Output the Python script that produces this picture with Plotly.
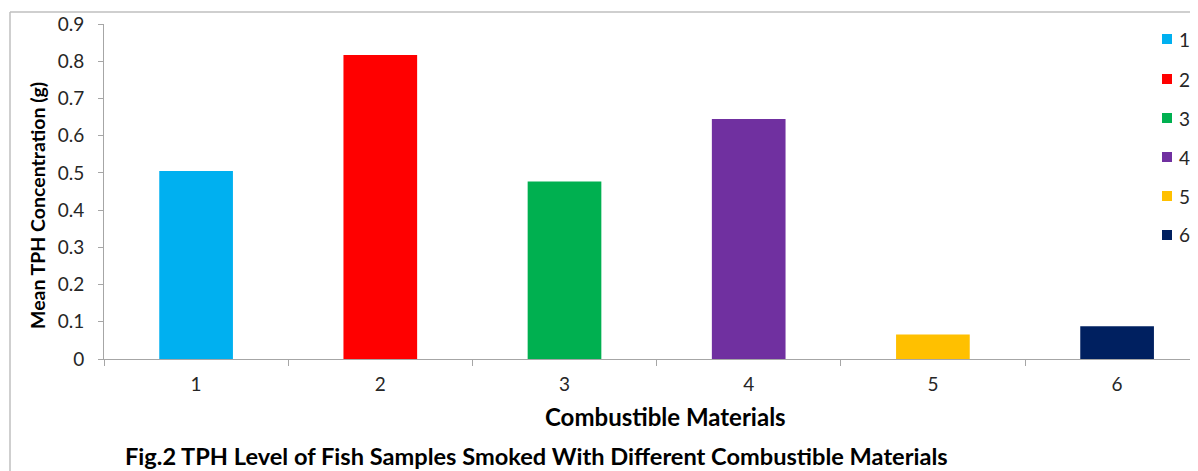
import plotly.graph_objects as go

categories = ["1", "2", "3", "4", "5", "6"]
values = [0.505, 0.817, 0.477, 0.645, 0.066, 0.088]
colors = ["#00B0F0", "#FF0000", "#00B050", "#7030A0", "#FFC000", "#002060"]
y_ticks = [0, 0.1, 0.2, 0.3, 0.4, 0.5, 0.6, 0.7, 0.8, 0.9]

# The page body has an 8px margin, so the figure is offset by 8px in the window
OFF = 8
VW, VH = 1198, 471
W, H = VW - OFF, VH - OFF
PLOT_L, PLOT_T, PLOT_B = 104, 24, 359   # viewport pixels
ML, MR, MT, MB = PLOT_L - OFF, 0, PLOT_T - OFF, H - (PLOT_B - OFF)
PW, PH = W - ML - MR, H - MT - MB
CAT_W = 184.2

def px_x(p):
    return (p - PLOT_L) / PW

def px_y(p):
    return (PLOT_B - p) / PH

FONT = "Lato"
fig = go.Figure()
for c, v, col in zip(categories, values, colors):
    fig.add_trace(go.Bar(x=[c], y=[v], name=c, marker=dict(color=col, line=dict(width=0)),
                         width=0.4, showlegend=False))

axis_col = "#A6A6A6"
fig.update_layout(
    width=W, height=H,
    margin=dict(l=ML, r=MR, t=MT, b=MB),
    paper_bgcolor="white", plot_bgcolor="white",
    barmode="overlay",
    font=dict(family=FONT, size=19, color="#262626"),
    xaxis=dict(type="category", categoryorder="array", categoryarray=categories,
               range=[-0.5, -0.5 + PW / CAT_W], tickson="boundaries", ticks="outside",
               ticklen=6, tickcolor=axis_col, showline=True, linecolor=axis_col,
               linewidth=1, showgrid=False, zeroline=False,
               tickfont=dict(size=19), ticklabelstandoff=8),
    yaxis=dict(range=[0, 0.9], tickvals=y_ticks, ticktext=[f"{t:g}" for t in y_ticks],
               ticks="outside", ticklen=5, tickcolor=axis_col, showline=True,
               linecolor=axis_col, linewidth=1, showgrid=False, zeroline=False,
               tickfont=dict(size=19), ticklabelstandoff=10),
    showlegend=False,
)

# legend (squares + labels)
leg_y = [39, 79, 118, 157, 196, 235]
for c, col, ly in zip(categories, colors, leg_y):
    fig.add_shape(type="rect", xref="paper", yref="paper",
                  x0=px_x(1162), x1=px_x(1172), y0=px_y(ly + 5), y1=px_y(ly - 5),
                  fillcolor=col, line=dict(width=0))
    fig.add_annotation(text=c, x=px_x(1177), y=px_y(ly), xref="paper", yref="paper",
                       xanchor="left", yanchor="middle", showarrow=False,
                       font=dict(size=19, color="#262626"))

fig.add_annotation(text="<b>Mean TPH Concentration (g)</b>", x=px_x(37), y=px_y(206),
                   xref="paper", yref="paper", xanchor="center", yanchor="middle",
                   showarrow=False, textangle=-90,
                   font=dict(size=19.5, color="#000000"))
fig.add_annotation(text="<b>Combustible Materials</b>", x=px_x(665), y=px_y(416),
                   xref="paper", yref="paper", xanchor="center", yanchor="middle",
                   showarrow=False, font=dict(size=24, color="#000000"))
fig.add_annotation(text="<b>Fig.2 TPH Level of Fish Samples Smoked With Different Combustible Materials</b>",
                   x=px_x(123), y=px_y(456), xref="paper", yref="paper", xanchor="left",
                   yanchor="middle", showarrow=False, font=dict(size=23.6, color="#000000"))

border = "#BFBFBF"
fig.add_shape(type="line", xref="paper", yref="paper", x0=px_x(10), x1=px_x(VW + 5),
              y0=px_y(12), y1=px_y(12), line=dict(color=border, width=1.5))
fig.add_shape(type="line", xref="paper", yref="paper", x0=px_x(10), x1=px_x(10),
              y0=px_y(12), y1=px_y(VH + 5), line=dict(color=border, width=1.5))

fig.write_html("out.html")
